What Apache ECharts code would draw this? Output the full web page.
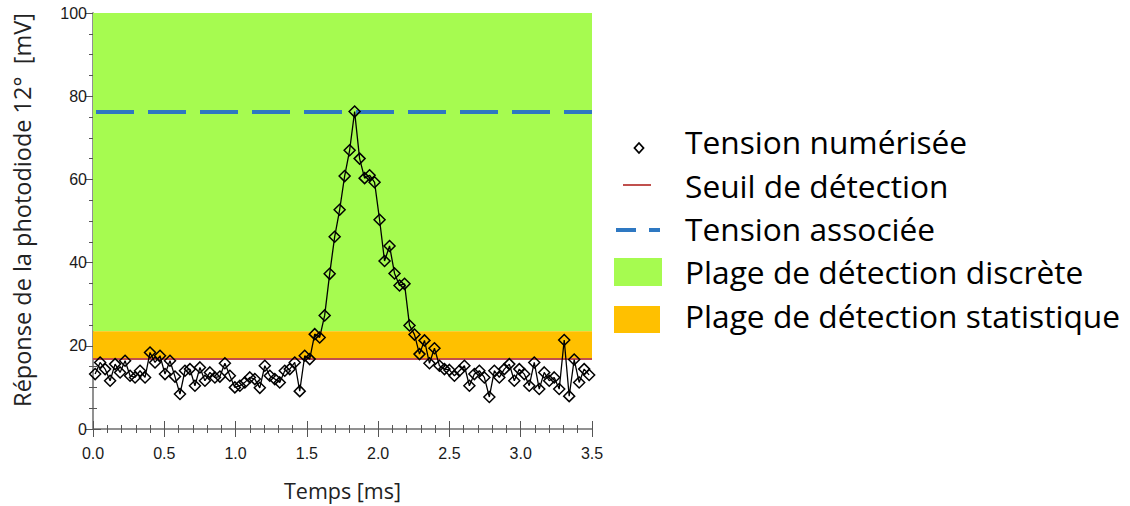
<!DOCTYPE html>
<html>
<head>
<meta charset="utf-8">
<script src="https://cdn.jsdelivr.net/npm/echarts@6/dist/echarts.min.js"></script>
<style>
html,body{margin:0;padding:0;background:#fff;}
#chart{width:1130px;height:506px;}
</style>
</head>
<body>
<div id="chart"></div>
<script>
// ---- data ----
const times = [0.015,0.050,0.085,0.120,0.155,0.190,0.225,0.260,0.295,0.330,
  0.365,0.400,0.435,0.470,0.505,0.540,0.575,0.610,0.645,0.680,
  0.715,0.750,0.785,0.820,0.855,0.890,0.925,0.960,0.995,1.030,
  1.065,1.100,1.135,1.170,1.205,1.240,1.275,1.310,1.345,1.380,
  1.415,1.450,1.485,1.520,1.555,1.590,1.625,1.660,1.695,1.730,
  1.765,1.800,1.835,1.870,1.905,1.940,1.975,2.010,2.045,2.080,
  2.115,2.150,2.185,2.220,2.255,2.290,2.325,2.360,2.395,2.430,
  2.465,2.500,2.535,2.570,2.605,2.640,2.675,2.710,2.745,2.780,
  2.815,2.850,2.885,2.920,2.955,2.990,3.025,3.060,3.095,3.130,
  3.165,3.200,3.235,3.270,3.305,3.340,3.375,3.410,3.445,3.480];
const tension = [13.2,16.0,14.4,11.6,15.6,13.6,16.4,12.8,12.4,14.0,
  12.4,18.4,16.0,17.6,13.2,16.4,12.6,8.4,14.0,14.4,
  10.4,14.8,11.6,13.6,12.4,12.6,15.8,12.8,10.0,10.4,
  11.2,12.4,12.0,9.9,15.2,12.8,12.0,11.2,14.0,14.4,
  16.0,9.1,17.6,16.8,22.8,22.0,27.3,37.3,46.2,52.7,
  60.8,67.0,76.3,65.0,60.3,61.0,59.3,50.3,40.4,44.0,
  37.4,34.5,34.9,24.9,22.7,18.0,21.3,15.8,19.4,15.2,
  14.4,14.2,12.8,14.0,15.2,10.4,13.2,14.0,12.4,7.7,
  14.0,12.4,14.4,15.6,11.6,14.4,13.2,10.4,16.0,9.6,
  13.6,11.6,12.4,9.6,21.4,7.9,16.7,11.2,14.4,13.0];
const seuil = 17.0;            // Seuil de détection
const tensionAssociee = 76.3;  // Tension associée
const plageStatistique = [17.0, 23.5];
const plageDiscrete = [23.5, 100];
const xTicks = [0, 3.5, 0.5];  // min, max, interval
const yTicks = [0, 100, 20];
const legendLabels = ['Tension numérisée','Seuil de détection','Tension associée',
  'Plage de détection discrète','Plage de détection statistique'];
const xTitle = 'Temps [ms]';
const yTitle = 'Réponse de la photodiode 12°  [mV]';

// ---- chart ----
const GREEN = '#A6FB50', ORANGE = '#FFC000', RED = '#C0504D', BLUE = '#2E78C2';
const chart = echarts.init(document.getElementById('chart'), null, {renderer: 'svg'});
const frame = {show: true, lineStyle: {color: '#8a8a8a', width: 1.5}};
const tickCommon = {show: true, inside: true, length: 8, lineStyle: {color: '#555', width: 1}};
const minorCommon = {show: true, length: 4, lineStyle: {color: '#555', width: 1}};
const labelFont = {fontFamily: 'Liberation Sans', fontSize: 16, color: '#1a1a1a'};

const legendX = 685, legendY = [147, 191, 234, 277, 321];

chart.setOption({
  animation: false,
  grid: {left: 93, right: 538, top: 13, bottom: 73, containLabel: false},
  xAxis: [{
    type: 'value', min: xTicks[0], max: xTicks[1], interval: xTicks[2],
    axisLine: frame, axisTick: tickCommon, minorTick: Object.assign({splitNumber: 5}, minorCommon),
    splitLine: {show: false},
    axisLabel: Object.assign({margin: 16, formatter: v => v.toFixed(1)}, labelFont),
    name: xTitle, nameLocation: 'middle', nameGap: 50,
    nameTextStyle: {fontFamily: 'Open Sans', fontSize: 21.5, color: '#222'}
  }, {
    type: 'value', position: 'top', min: xTicks[0], max: xTicks[1], interval: xTicks[2],
    axisLine: frame, axisTick: tickCommon, minorTick: Object.assign({splitNumber: 5}, minorCommon),
    splitLine: {show: false}, axisLabel: {show: false}
  }],
  yAxis: [{
    type: 'value', min: yTicks[0], max: yTicks[1], interval: yTicks[2],
    axisLine: frame, axisTick: tickCommon, minorTick: Object.assign({splitNumber: 4}, minorCommon),
    splitLine: {show: false},
    axisLabel: Object.assign({margin: 6}, labelFont),
    name: yTitle, nameLocation: 'middle', nameGap: 59, nameRotate: 90,
    nameTextStyle: {fontFamily: 'Open Sans', fontSize: 23.5, color: '#222', padding: [0, 0, 0, 22]}
  }, {
    type: 'value', position: 'right', min: yTicks[0], max: yTicks[1], interval: yTicks[2],
    axisLine: frame, axisTick: tickCommon, minorTick: Object.assign({splitNumber: 4}, minorCommon),
    splitLine: {show: false}, axisLabel: {show: false}
  }],
  series: [{
    name: legendLabels[3], type: 'line', data: [], z: 1,
    markArea: {silent: true, itemStyle: {color: GREEN},
      data: [[{yAxis: plageDiscrete[0]}, {yAxis: plageDiscrete[1]}]]}
  }, {
    name: legendLabels[4], type: 'line', data: [], z: 1,
    markArea: {silent: true, itemStyle: {color: ORANGE},
      data: [[{yAxis: plageStatistique[0]}, {yAxis: plageStatistique[1]}]]}
  }, {
    name: legendLabels[1], type: 'line', data: [], z: 2,
    markLine: {silent: true, symbol: ['none', 'none'], label: {show: false},
      lineStyle: {color: RED, width: 2, type: 'solid'},
      data: [{yAxis: seuil}]}
  }, {
    name: legendLabels[2], type: 'line', data: [], z: 2,
    markLine: {silent: true, symbol: ['none', 'none'], label: {show: false},
      lineStyle: {color: BLUE, width: 4, type: [38, 14], dashOffset: -3},
      data: [{yAxis: tensionAssociee}]}
  }, {
    name: legendLabels[0], type: 'line', z: 5,
    data: times.map((t, i) => [t, tension[i]]),
    symbol: 'diamond', symbolSize: 11, showAllSymbol: true,
    lineStyle: {color: '#000', width: 1.3},
    itemStyle: {color: 'rgba(0,0,0,0)', borderColor: '#000', borderWidth: 1.5}
  }],
  graphic: [
    {type: 'polygon', shape: {points: [[639,143],[643.5,148],[639,153],[634.5,148]]},
      style: {fill: 'none', stroke: '#000', lineWidth: 1.8}},
    {type: 'line', shape: {x1: 623, y1: 185, x2: 651, y2: 185},
      style: {stroke: RED, lineWidth: 2}},
    {type: 'line', shape: {x1: 616, y1: 230, x2: 636, y2: 230},
      style: {stroke: BLUE, lineWidth: 4}},
    {type: 'line', shape: {x1: 649, y1: 230, x2: 660, y2: 230},
      style: {stroke: BLUE, lineWidth: 4}},
    {type: 'rect', shape: {x: 614, y: 258, width: 48, height: 28}, style: {fill: GREEN}},
    {type: 'rect', shape: {x: 614, y: 306, width: 46, height: 27}, style: {fill: ORANGE}},
  ].concat(legendLabels.map((txt, i) => ({
    type: 'text', left: legendX, top: legendY[i] - 22,
    style: {text: txt, fontFamily: 'Open Sans', fontSize: 31.7, fill: '#000'}
  })))
});
</script>
</body>
</html>
